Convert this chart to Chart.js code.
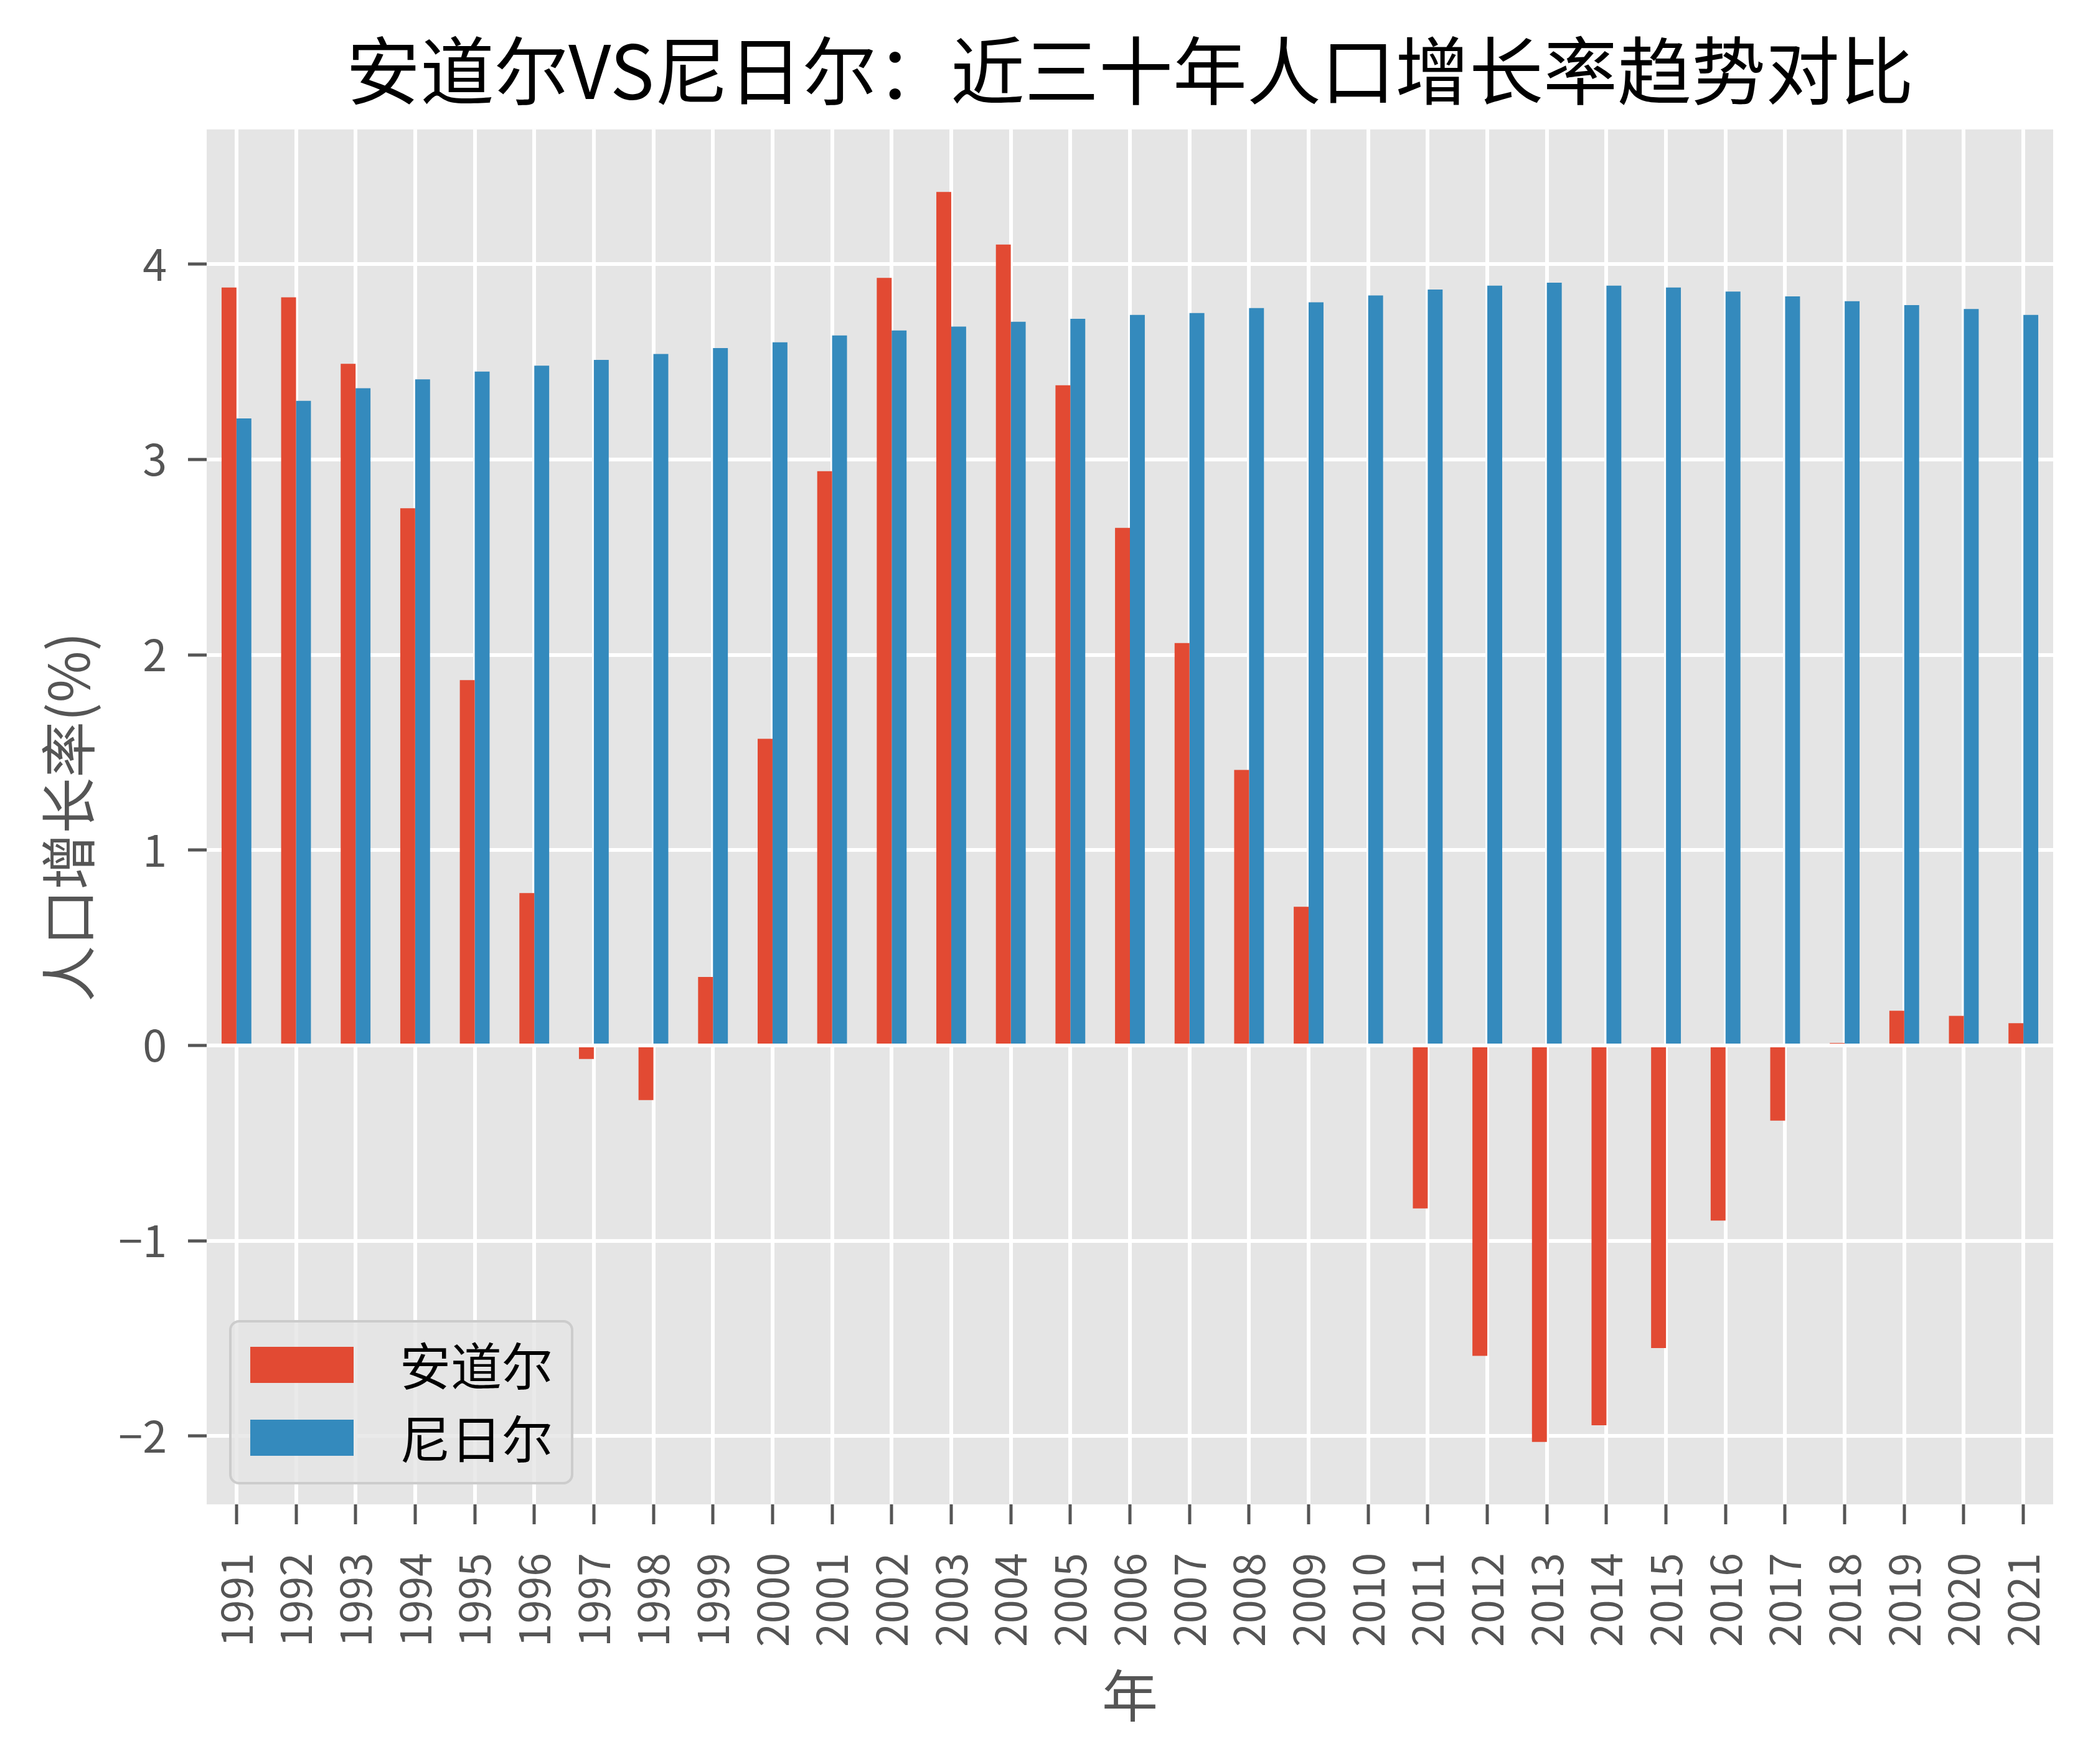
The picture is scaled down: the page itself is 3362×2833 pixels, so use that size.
<!DOCTYPE html>
<html lang="zh">
<head>
<meta charset="utf-8">
<title>安道尔VS尼日尔：近三十年人口增长率趋势对比</title>
<script src="https://cdn.jsdelivr.net/npm/chart.js@4.4.1/dist/chart.umd.min.js"></script>
<style>
  html, body { margin: 0; padding: 0; background: #fff; }
  #wrap { width: 3362px; height: 2833px; }
</style>
</head>
<body>
<div id="wrap"><canvas id="chart" width="3362" height="2833"></canvas></div>
<script>
// 年份
const years = ['1991', '1992', '1993', '1994', '1995', '1996', '1997', '1998', '1999', '2000',
  '2001', '2002', '2003', '2004', '2005', '2006', '2007', '2008', '2009', '2010',
  '2011', '2012', '2013', '2014', '2015', '2016', '2017', '2018', '2019', '2020', '2021'];

// 安道尔 人口增长率 (%)
const andorraGrowth = [3.88, 3.83, 3.49, 2.75, 1.87, 0.78, -0.07, -0.28, 0.35, 1.57,
  2.94, 3.93, 4.37, 4.10, 3.38, 2.65, 2.06, 1.41, 0.71, -0.01,
  -0.835, -1.59, -2.03, -1.945, -1.55, -0.897, -0.385, 0.012, 0.177, 0.151, 0.114];

// 尼日尔 人口增长率 (%)
const nigerGrowth = [3.21, 3.30, 3.365, 3.41, 3.45, 3.48, 3.51, 3.54, 3.57, 3.60,
  3.635, 3.66, 3.68, 3.705, 3.72, 3.74, 3.75, 3.775, 3.805, 3.84,
  3.87, 3.89, 3.905, 3.89, 3.88, 3.86, 3.835, 3.81, 3.79, 3.77, 3.74];

// y 轴刻度
const yTicks = [-2, -1, 0, 1, 2, 3, 4];

const FONT = "'Noto Sans CJK SC', 'Noto Sans', sans-serif";

// 绘图区灰色背景
const plotBackground = {
  id: 'plotBackground',
  beforeDraw(chart) {
    const { ctx, chartArea: a } = chart;
    ctx.save();
    ctx.fillStyle = '#E5E5E5';
    ctx.fillRect(a.left, a.top, a.right - a.left, a.bottom - a.top);
    ctx.restore();
  }
};

// 图例画在绘图区左下角
const insideLegend = {
  id: 'insideLegend',
  afterDatasetsDraw(chart) {
    const { ctx, chartArea: a } = chart;
    const sets = chart.data.datasets;
    const boxW = 549, boxH = 260;
    const x = a.left + 38;
    const y = a.bottom - 34 - boxH;

    ctx.save();
    ctx.beginPath();
    ctx.roundRect(x, y, boxW, boxH, 14);
    ctx.fillStyle = 'rgba(229,229,229,0.8)';
    ctx.fill();
    ctx.lineWidth = 4;
    ctx.strokeStyle = '#CCCCCC';
    ctx.stroke();

    ctx.font = '82px ' + FONT;
    ctx.textBaseline = 'middle';
    sets.forEach((ds, i) => {
      const sy = y + 41 + i * 117;
      ctx.fillStyle = ds.backgroundColor;
      ctx.fillRect(x + 32, sy, 166, 58);
      ctx.fillStyle = '#000';
      ctx.fillText(ds.label, x + 272, sy + 31);
    });
    ctx.restore();
  }
};

const ctx = document.getElementById('chart').getContext('2d');

new Chart(ctx, {
  type: 'bar',
  data: {
    labels: years,
    datasets: [
      {
        label: '安道尔',
        data: andorraGrowth,
        backgroundColor: '#E24A33',
        borderWidth: 0,
        categoryPercentage: 0.5,
        barPercentage: 1.0
      },
      {
        label: '尼日尔',
        data: nigerGrowth,
        backgroundColor: '#348ABD',
        borderWidth: 0,
        categoryPercentage: 0.5,
        barPercentage: 1.0
      }
    ]
  },
  options: {
    responsive: false,
    devicePixelRatio: 1,
    animation: false,
    layout: { padding: { left: 0, right: 64, top: 0, bottom: 0 } },
    plugins: {
      legend: { display: false },
      tooltip: { enabled: false },
      title: {
        display: true,
        fullSize: false,
        text: '安道尔VS尼日尔：近三十年人口增长率趋势对比',
        color: '#000',
        font: { family: FONT, size: 119, weight: 'normal', lineHeight: 1.2 },
        padding: { top: 42, bottom: 23 }
      }
    },
    scales: {
      x: {
        offset: true,
        grid: {
          offset: false,
          color: '#FFFFFF',
          lineWidth: 6,
          drawTicks: true,
          tickLength: 32,
          tickColor: '#555555',
          tickWidth: 5
        },
        border: { display: false },
        ticks: {
          color: '#555555',
          font: { family: FONT, size: 68 },
          minRotation: 90,
          maxRotation: 90,
          autoSkip: false,
          padding: 46
        },
        title: {
          display: true,
          text: '年',
          color: '#555555',
          font: { family: FONT, size: 90, lineHeight: 1.2 },
          padding: { top: 0, bottom: 56 }
        },
        afterFit(scale) {
          scale.height = 417;
          scale.paddingLeft = 0;
          scale.paddingRight = 0;
        }
      },
      y: {
        min: -2.35,
        max: 4.69,
        grid: {
          color: '#FFFFFF',
          lineWidth: 6,
          drawTicks: true,
          tickLength: 30,
          tickColor: '#555555',
          tickWidth: 5
        },
        border: { display: false },
        ticks: {
          color: '#555555',
          font: { family: FONT, size: 70 },
          padding: 34,
          callback: (v) => (v < 0 ? '\u2212' + Math.abs(v) : String(v))
        },
        afterBuildTicks(scale) {
          scale.ticks = yTicks.map(v => ({ value: v }));
        },
        title: {
          display: true,
          text: '人口增长率(%)',
          color: '#555555',
          font: { family: FONT, size: 90, lineHeight: 1.2 },
          padding: { top: 56, bottom: 0 }
        },
        afterFit(scale) {
          scale.width = 332;
          scale.paddingTop = 0;
          scale.paddingBottom = 0;
        }
      }
    }
  },
  plugins: [plotBackground, insideLegend]
});
</script>
</body>
</html>
